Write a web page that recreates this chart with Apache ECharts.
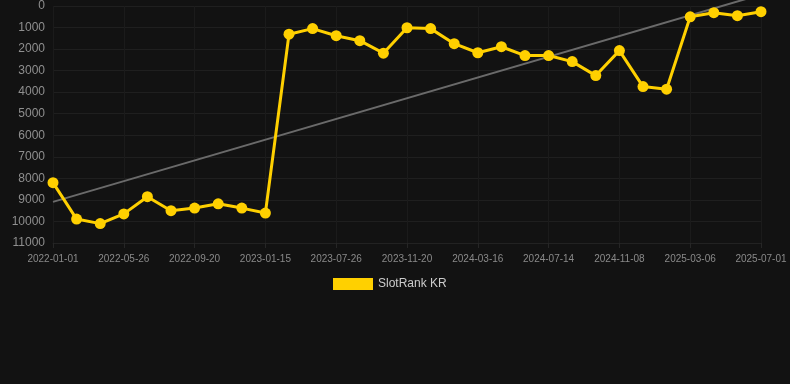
<!DOCTYPE html>
<html>
<head>
<meta charset="utf-8">
<script src="https://cdn.jsdelivr.net/npm/echarts@6/dist/echarts.min.js"></script>
<style>
html,body{margin:0;padding:0;background:#121212;}
#chart{width:790px;height:384px;}
</style>
</head>
<body>
<div id="chart"></div>
<script>
var categories = [
  '2022-01-01','2022-02-18','2022-04-07','2022-05-26','2022-07-04','2022-08-12',
  '2022-09-20','2022-10-29','2022-12-07','2023-01-15','2023-03-20','2023-05-23',
  '2023-07-26','2023-09-03','2023-10-12','2023-11-20','2023-12-29','2024-02-06',
  '2024-03-16','2024-04-25','2024-06-04','2024-07-14','2024-08-22','2024-09-30',
  '2024-11-08','2024-12-17','2025-01-26','2025-03-06','2025-04-14','2025-05-23',
  '2025-07-01'
];
var rankKR = [
  8200, 9890, 10100, 9650, 8850, 9500, 9380, 9180, 9380, 9610,
  1310, 1050, 1380, 1610, 2190, 1010, 1050, 1750, 2170, 1890,
  2300, 2300, 2580, 3230, 2070, 3740, 3860, 500, 310, 450, 265
];
var trendStart = 9090;
var trendEnd = -530;
var yTicks = [0,1000,2000,3000,4000,5000,6000,7000,8000,9000,10000,11000];

var chart = echarts.init(document.getElementById('chart'));
chart.setOption({
  backgroundColor: '#121212',
  animation: false,
  grid: {left: 53, right: 29, top: 6, bottom: 141, containLabel: false},
  legend: {
    data: ['SlotRank KR'],
    left: 328,
    top: 273,
    icon: 'rect',
    itemWidth: 40,
    itemHeight: 12,
    itemGap: 10,
    textStyle: {color: '#cccccc', fontSize: 12, fontFamily: 'Arial, Liberation Sans, sans-serif'}
  },
  xAxis: {
    type: 'category',
    data: categories,
    boundaryGap: false,
    axisLine: {show: true, onZero: false, lineStyle: {color: '#222222'}},
    axisTick: {show: true, interval: 2, lineStyle: {color: '#262626'}},
    axisLabel: {interval: 2, color: '#8a8a8a', fontSize: 10, margin: 11, fontFamily: 'Arial, Liberation Sans, sans-serif'},
    splitLine: {show: true, interval: 2, lineStyle: {color: '#1b1b1b'}}
  },
  yAxis: {
    type: 'value',
    inverse: true,
    min: yTicks[0],
    max: yTicks[yTicks.length - 1],
    interval: 1000,
    axisLine: {show: false},
    axisTick: {show: false},
    axisLabel: {
      color: '#8f8f8f', fontSize: 12, margin: 8,
      fontFamily: 'Arial, Liberation Sans, sans-serif',
      formatter: function (v) { return String(v); }
    },
    splitLine: {show: true, lineStyle: {color: '#1f1f1f'}}
  },
  series: [
    {
      name: 'Trend',
      type: 'line',
      data: [[categories[0], trendStart], [categories[categories.length - 1], trendEnd]],
      clip: false,
      symbol: 'none',
      silent: true,
      lineStyle: {color: '#6a6a6a', width: 2},
      z: 1
    },
    {
      name: 'SlotRank KR',
      type: 'line',
      data: rankKR,
      symbol: 'circle',
      symbolSize: 11,
      itemStyle: {color: '#FFD000'},
      lineStyle: {color: '#FFD000', width: 3},
      z: 3
    }
  ]
});
</script>
</body>
</html>
